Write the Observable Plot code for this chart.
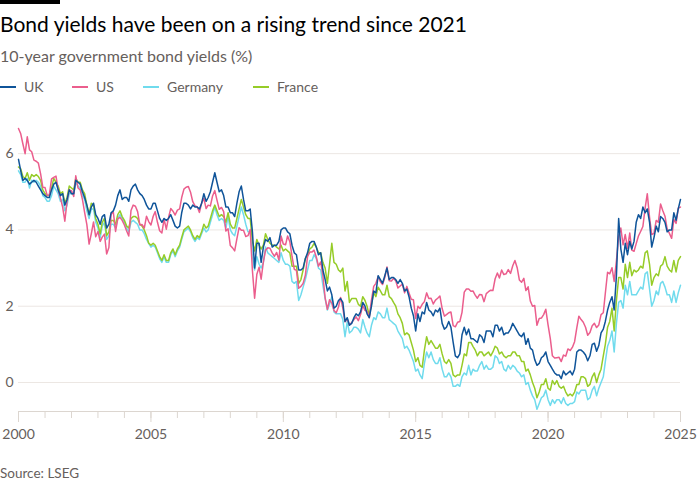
<!DOCTYPE html>
<html>
<head>
<meta charset="utf-8">
<script src="https://cdn.jsdelivr.net/npm/d3@7"></script>
<script src="https://cdn.jsdelivr.net/npm/@observablehq/plot@0.6"></script>
<style>
  html, body { margin: 0; padding: 0; background: #fff; }
  #wrap { position: relative; width: 700px; height: 500px; font-family: Lato, "Open Sans", sans-serif; }
  .bar { position: absolute; left: 0; top: 0; width: 60px; height: 4px; background: #000; }
  .title { position: absolute; left: 0; top: 11px; font-size: 21px; line-height: 26px; color: #000; white-space: nowrap; }
  .subtitle { position: absolute; left: 0; top: 46px; font-size: 16px; line-height: 20px; color: #66605c; white-space: nowrap; }
  .leg { position: absolute; top: 78px; font-size: 14px; line-height: 18px; color: #66605c; white-space: nowrap; }
  .leg .sw { position: absolute; left: 0; top: 8px; width: 16px; height: 1.5px; }
  .leg .lbl { position: absolute; left: 24px; top: 0; }
  #chart { position: absolute; left: 0; top: 100px; }
  .source { position: absolute; left: 0; top: 465px; font-size: 13.5px; line-height: 16px; color: #66605c; }
</style>
</head>
<body>
<div id="wrap">
  <div class="bar"></div>
  <div class="title">Bond yields have been on a rising trend since 2021</div>
  <div class="subtitle">10-year government bond yields (%)</div>
  <div id="legend"></div>
  <div id="chart"></div>
  <div class="source">Source: LSEG</div>
</div>
<script>
// Monthly 10-year government bond yields (%), Jan 2000 – Jan 2025
const countries = ["UK", "US", "Germany", "France"];
const colors = ["#0f5499", "#eb5e8d", "#70dbed", "#96cc28"];
const legendX = [0, 72, 143, 253];
const startYear = 2000;
const xTicksLabelled = [2000, 2005, 2010, 2015, 2020, 2025];
const yTicks = [0, 2, 4, 6];

const ukYields = [
  5.85, 5.55, 5.30, 5.35, 5.30, 5.20, 5.25, 5.30, 5.25, 5.15, 5.05, 4.95,
  4.90, 4.85, 4.85, 5.05, 5.20, 5.25, 5.05, 4.90, 4.95, 4.65, 4.80, 5.05,
  4.95, 4.95, 5.30, 5.25, 5.20, 5.00, 4.85, 4.65, 4.40, 4.60, 4.70, 4.40,
  4.30, 4.15, 4.35, 4.40, 4.05, 4.15, 4.45, 4.50, 4.65, 4.90, 5.05, 4.80,
  4.85, 4.85, 4.75, 5.05, 5.15, 5.20, 5.05, 4.95, 4.90, 4.80, 4.65, 4.55,
  4.55, 4.70, 4.70, 4.50, 4.30, 4.20, 4.30, 4.25, 4.30, 4.40, 4.25, 4.10,
  4.05, 4.10, 4.45, 4.70, 4.70, 4.65, 4.55, 4.65, 4.60, 4.60, 4.55, 4.70,
  4.95, 4.75, 4.85, 5.00, 5.25, 5.50, 5.25, 5.00, 5.05, 4.90, 4.60, 4.60,
  4.45, 4.45, 4.35, 4.70, 5.00, 5.15, 4.80, 4.50, 4.50, 4.55, 3.95, 3.00,
  3.65, 3.65, 3.15, 3.55, 3.75, 3.70, 3.80, 3.55, 3.60, 3.60, 3.70, 4.00,
  4.05, 4.05, 3.95, 3.90, 3.60, 3.40, 3.35, 2.95, 2.95, 3.00, 3.25, 3.40,
  3.65, 3.70, 3.70, 3.55, 3.35, 3.40, 2.95, 2.70, 2.40, 2.50, 2.30, 1.95,
  2.00, 2.15, 2.20, 2.10, 1.60, 1.70, 1.50, 1.55, 1.70, 1.80, 1.75, 1.85,
  2.10, 2.00, 1.80, 1.70, 2.00, 2.40, 2.35, 2.80, 2.70, 2.60, 2.80, 3.00,
  2.70, 2.75, 2.75, 2.70, 2.60, 2.70, 2.60, 2.40, 2.45, 2.25, 1.95, 1.75,
  1.35, 1.80, 1.60, 1.85, 1.80, 2.10, 1.90, 1.85, 1.75, 1.90, 1.85, 1.95,
  1.55, 1.40, 1.45, 1.60, 1.45, 1.05, 0.70, 0.65, 0.75, 1.25, 1.45, 1.25,
  1.40, 1.15, 1.15, 1.10, 1.05, 1.25, 1.20, 1.05, 1.35, 1.35, 1.35, 1.20,
  1.50, 1.50, 1.35, 1.45, 1.25, 1.30, 1.30, 1.40, 1.55, 1.45, 1.35, 1.25,
  1.20, 1.30, 1.00, 1.15, 0.90, 0.85, 0.60, 0.45, 0.50, 0.65, 0.70, 0.80,
  0.55, 0.45, 0.35, 0.25, 0.20, 0.20, 0.10, 0.30, 0.20, 0.25, 0.30, 0.20,
  0.35, 0.80, 0.85, 0.85, 0.80, 0.72, 0.57, 0.70, 1.00, 1.03, 0.82, 0.97,
  1.30, 1.40, 1.60, 1.90, 2.10, 2.25, 1.90, 2.80, 4.30, 3.50, 3.15, 3.65,
  3.35, 3.70, 3.50, 3.70, 4.20, 4.40, 4.30, 4.60, 4.45, 4.55, 4.20, 3.55,
  3.80, 4.10, 3.95, 4.35, 4.30, 4.20, 3.95, 4.00, 4.00, 4.45, 4.25, 4.55,
  4.80
];
const usYields = [
  6.66, 6.52, 6.26, 6.00, 6.44, 6.10, 6.05, 5.83, 5.80, 5.75, 5.47, 5.12,
  5.11, 4.90, 4.92, 5.34, 5.38, 5.41, 5.05, 4.84, 4.60, 4.23, 4.75, 5.05,
  5.03, 4.88, 5.42, 5.10, 5.05, 4.80, 4.46, 4.14, 3.63, 3.90, 4.21, 3.82,
  3.96, 3.70, 3.81, 3.89, 3.37, 3.54, 4.41, 4.47, 3.96, 4.29, 4.33, 4.25,
  4.13, 3.97, 3.84, 4.51, 4.65, 4.62, 4.48, 4.13, 4.14, 4.05, 4.36, 4.22,
  4.13, 4.36, 4.48, 4.20, 3.98, 3.92, 4.28, 4.02, 4.33, 4.56, 4.49, 4.39,
  4.52, 4.55, 4.85, 5.07, 5.12, 5.14, 4.99, 4.74, 4.63, 4.61, 4.46, 4.70,
  4.83, 4.56, 4.65, 4.63, 4.89, 5.03, 4.78, 4.54, 4.59, 4.48, 3.97, 4.03,
  3.59, 3.53, 3.45, 3.77, 4.06, 3.99, 3.99, 3.83, 3.85, 4.01, 2.93, 2.21,
  2.84, 3.02, 2.71, 3.16, 3.47, 3.53, 3.52, 3.40, 3.31, 3.41, 3.21, 3.84,
  3.63, 3.61, 3.84, 3.69, 3.31, 2.97, 2.94, 2.47, 2.52, 2.60, 2.81, 3.30,
  3.42, 3.42, 3.47, 3.29, 3.05, 3.16, 2.80, 2.22, 1.92, 2.17, 2.08, 1.89,
  1.83, 1.98, 2.23, 1.95, 1.59, 1.67, 1.51, 1.57, 1.65, 1.72, 1.62, 1.78,
  2.02, 1.89, 1.87, 1.70, 2.16, 2.52, 2.60, 2.78, 2.64, 2.57, 2.75, 3.03,
  2.67, 2.66, 2.73, 2.67, 2.48, 2.53, 2.58, 2.35, 2.52, 2.35, 2.18, 2.17,
  1.68, 2.00, 1.94, 2.05, 2.12, 2.35, 2.20, 2.21, 2.06, 2.16, 2.21, 2.27,
  1.94, 1.74, 1.78, 1.83, 1.85, 1.49, 1.46, 1.58, 1.60, 1.84, 2.37, 2.45,
  2.45, 2.39, 2.40, 2.29, 2.21, 2.31, 2.30, 2.12, 2.33, 2.38, 2.42, 2.41,
  2.72, 2.87, 2.74, 2.95, 2.83, 2.85, 2.96, 2.86, 3.06, 3.20, 3.01, 2.69,
  2.63, 2.73, 2.41, 2.51, 2.14, 2.00, 2.02, 1.50, 1.68, 1.69, 1.78, 1.92,
  1.51, 1.15, 0.70, 0.64, 0.65, 0.66, 0.55, 0.72, 0.69, 0.88, 0.84, 0.92,
  1.07, 1.44, 1.74, 1.65, 1.58, 1.45, 1.24, 1.31, 1.49, 1.55, 1.44, 1.51,
  1.78, 1.83, 2.34, 2.89, 2.85, 3.01, 2.65, 3.19, 3.83, 4.05, 3.61, 3.88,
  3.52, 3.92, 3.47, 3.44, 3.64, 3.84, 3.96, 4.09, 4.57, 4.95, 4.33, 3.88,
  3.91, 4.25, 4.20, 4.68, 4.51, 4.36, 4.03, 3.91, 3.78, 4.28, 4.17, 4.57,
  4.60
];
const germanyYields = [
  5.55, 5.45, 5.25, 5.25, 5.35, 5.10, 5.30, 5.25, 5.30, 5.25, 5.15, 4.90,
  4.85, 4.75, 4.75, 4.90, 5.15, 5.05, 4.95, 4.75, 4.80, 4.50, 4.65, 4.95,
  4.95, 4.95, 5.25, 5.15, 5.10, 4.90, 4.80, 4.50, 4.30, 4.55, 4.55, 4.20,
  4.05, 3.80, 4.10, 4.20, 3.75, 3.85, 4.15, 4.15, 4.05, 4.30, 4.40, 4.30,
  4.20, 4.05, 3.95, 4.20, 4.25, 4.20, 4.15, 4.00, 4.00, 3.90, 3.75, 3.65,
  3.55, 3.60, 3.55, 3.40, 3.25, 3.15, 3.30, 3.15, 3.15, 3.35, 3.45, 3.30,
  3.45, 3.55, 3.75, 3.95, 4.00, 4.05, 3.95, 3.80, 3.70, 3.80, 3.75, 3.90,
  4.05, 3.95, 4.00, 4.20, 4.40, 4.60, 4.40, 4.25, 4.30, 4.25, 4.05, 4.35,
  4.00, 3.90, 3.85, 4.10, 4.35, 4.60, 4.40, 4.15, 3.95, 3.95, 3.30, 2.95,
  3.30, 3.10, 3.00, 3.15, 3.55, 3.40, 3.35, 3.30, 3.25, 3.20, 3.15, 3.40,
  3.20, 3.10, 3.10, 3.05, 2.65, 2.60, 2.65, 2.15, 2.30, 2.50, 2.70, 2.95,
  3.20, 3.20, 3.35, 3.25, 3.00, 2.95, 2.55, 2.20, 1.90, 2.05, 2.25, 1.85,
  1.80, 1.80, 1.80, 1.65, 1.20, 1.60, 1.30, 1.35, 1.45, 1.45, 1.40, 1.30,
  1.65, 1.45, 1.30, 1.20, 1.50, 1.70, 1.65, 1.85, 1.80, 1.70, 1.70, 1.95,
  1.65, 1.60, 1.55, 1.50, 1.35, 1.25, 1.15, 0.90, 0.95, 0.85, 0.70, 0.55,
  0.30, 0.35, 0.20, 0.10, 0.50, 0.80, 0.65, 0.80, 0.60, 0.50, 0.50, 0.65,
  0.35, 0.15, 0.15, 0.25, 0.15, -0.10, -0.10, -0.05, -0.10, 0.15, 0.25, 0.20,
  0.45, 0.20, 0.35, 0.30, 0.30, 0.45, 0.55, 0.35, 0.45, 0.35, 0.35, 0.40,
  0.70, 0.65, 0.50, 0.55, 0.35, 0.30, 0.45, 0.35, 0.45, 0.40, 0.30, 0.25,
  0.15, 0.20, -0.05, 0.00, -0.20, -0.35, -0.45, -0.70, -0.55, -0.40, -0.35, -0.20,
  -0.45, -0.60, -0.45, -0.55, -0.45, -0.45, -0.55, -0.40, -0.55, -0.60, -0.55, -0.55,
  -0.50, -0.25, -0.30, -0.20, -0.20, -0.20, -0.45, -0.40, -0.20, -0.10, -0.35, -0.15,
  0.00, 0.15, 0.55, 0.95, 1.10, 1.35, 0.80, 1.55, 2.10, 2.15, 1.95, 2.55,
  2.30, 2.65, 2.30, 2.30, 2.30, 2.40, 2.50, 2.45, 2.85, 2.90, 2.45, 2.00,
  2.15, 2.40, 2.30, 2.60, 2.65, 2.50, 2.30, 2.30, 2.10, 2.40, 2.10, 2.35,
  2.55
];
const franceYields = [
  5.65, 5.60, 5.40, 5.35, 5.50, 5.30, 5.45, 5.40, 5.45, 5.40, 5.30, 5.05,
  4.95, 4.90, 4.90, 5.10, 5.35, 5.25, 5.15, 4.95, 5.00, 4.70, 4.85, 5.15,
  5.10, 5.05, 5.35, 5.25, 5.25, 5.05, 4.95, 4.65, 4.40, 4.70, 4.65, 4.30,
  4.15, 3.90, 4.20, 4.30, 3.85, 3.95, 4.25, 4.25, 4.15, 4.40, 4.50, 4.35,
  4.25, 4.10, 4.05, 4.30, 4.35, 4.35, 4.30, 4.15, 4.10, 4.00, 3.85, 3.65,
  3.60, 3.65, 3.60, 3.45, 3.30, 3.20, 3.35, 3.20, 3.20, 3.40, 3.50, 3.35,
  3.50, 3.60, 3.80, 4.00, 4.05, 4.10, 4.00, 3.85, 3.75, 3.85, 3.80, 3.95,
  4.15, 4.05, 4.10, 4.30, 4.50, 4.65, 4.50, 4.35, 4.40, 4.35, 4.20, 4.45,
  4.15, 4.05, 4.05, 4.30, 4.55, 4.80, 4.60, 4.40, 4.30, 4.30, 3.70, 3.45,
  3.75, 3.60, 3.50, 3.60, 3.90, 3.75, 3.65, 3.60, 3.60, 3.55, 3.50, 3.60,
  3.45, 3.50, 3.45, 3.40, 3.05, 3.05, 3.05, 2.60, 2.70, 2.95, 3.25, 3.35,
  3.50, 3.55, 3.65, 3.55, 3.40, 3.40, 3.15, 3.00, 2.60, 3.10, 3.65, 3.15,
  3.10, 2.95, 2.90, 3.00, 2.40, 2.65, 2.10, 2.20, 2.20, 2.20, 2.05, 2.00,
  2.25, 2.15, 2.00, 1.75, 2.05, 2.35, 2.25, 2.50, 2.40, 2.30, 2.30, 2.55,
  2.25, 2.20, 2.10, 2.00, 1.80, 1.70, 1.55, 1.25, 1.30, 1.25, 1.05, 0.85,
  0.55, 0.65, 0.45, 0.40, 0.85, 1.20, 1.00, 1.10, 1.00, 0.90, 0.90, 1.00,
  0.75, 0.55, 0.50, 0.60, 0.50, 0.20, 0.15, 0.20, 0.20, 0.45, 0.75, 0.70,
  1.05, 1.05, 0.95, 0.85, 0.70, 0.80, 0.80, 0.70, 0.75, 0.80, 0.70, 0.80,
  0.95, 0.90, 0.75, 0.80, 0.70, 0.65, 0.70, 0.70, 0.80, 0.80, 0.70, 0.70,
  0.55, 0.55, 0.30, 0.35, 0.20, 0.00, -0.15, -0.40, -0.25, -0.05, -0.05, 0.10,
  -0.15, -0.20, 0.05, -0.05, 0.05, -0.10, -0.15, -0.10, -0.25, -0.35, -0.30, -0.35,
  -0.25, -0.05, -0.05, 0.15, 0.15, 0.10, -0.10, -0.05, 0.15, 0.25, 0.00, 0.20,
  0.35, 0.70, 1.00, 1.45, 1.60, 1.95, 1.35, 2.15, 2.75, 2.75, 2.45, 3.10,
  2.75, 3.15, 2.80, 2.95, 2.90, 2.95, 3.05, 3.00, 3.40, 3.45, 3.10, 2.55,
  2.75, 2.85, 2.80, 3.05, 3.10, 3.30, 3.05, 2.95, 2.90, 3.20, 2.90, 3.20,
  3.30
];

const seriesValues = [ukYields, usYields, germanyYields, franceYields];
const dates = ukYields.map((_, i) => new Date(Date.UTC(startYear, i, 1)));

const data = [];
// draw order: Germany, France, US, UK (UK on top)
[2, 3, 1, 0].forEach(k => {
  seriesValues[k].forEach((v, i) => data.push({date: dates[i], value: v, country: countries[k]}));
});

const yMin = -0.76, yMax = 7;
const allYears = d3.range(2000, 2026).map(y => new Date(Date.UTC(y, 0, 1)));
const labelYears = xTicksLabelled.map(y => new Date(Date.UTC(y, 0, 1)));

const chart = Plot.plot({
  width: 700,
  height: 350,
  marginLeft: 18,
  marginRight: 20,
  marginTop: 15,
  marginBottom: 39,
  x: {type: "utc", domain: [new Date(Date.UTC(2000, 0, 1)), new Date(Date.UTC(2025, 0, 1))]},
  y: {domain: [yMin, yMax]},
  color: {domain: countries, range: colors},
  style: {fontFamily: "Lato, 'Open Sans', sans-serif", fontSize: "14px", color: "#66605c", background: "white"},
  marks: [
    Plot.gridY(yTicks, {stroke: "#ece7e3", strokeOpacity: 1}),
    Plot.axisY(yTicks, {tickSize: 0, tickPadding: 5, label: null, fill: "#66605c", fontSize: 14}),
    Plot.ruleY([yMin], {stroke: "#dcd6d0"}),
    Plot.axisX(allYears, {tickSize: 7, tickFormat: () => "", label: null, stroke: "#dcd6d0", strokeOpacity: 1}),
    Plot.axisX(labelYears, {tickSize: 11, tickPadding: 7, tickFormat: "%Y", label: null, stroke: "#dcd6d0", strokeOpacity: 1, fill: "#66605c", fontSize: 14}),
    Plot.line(data, {x: "date", y: "value", z: "country", stroke: "country", strokeWidth: 1.5})
  ]
});
document.getElementById("chart").appendChild(chart);

// legend
const legend = document.getElementById("legend");
countries.forEach((c, i) => {
  const item = document.createElement("div");
  item.className = "leg";
  item.style.left = legendX[i] + "px";
  item.innerHTML = `<span class="sw" style="background:${colors[i]}"></span><span class="lbl">${c}</span>`;
  legend.appendChild(item);
});
</script>
</body>
</html>
